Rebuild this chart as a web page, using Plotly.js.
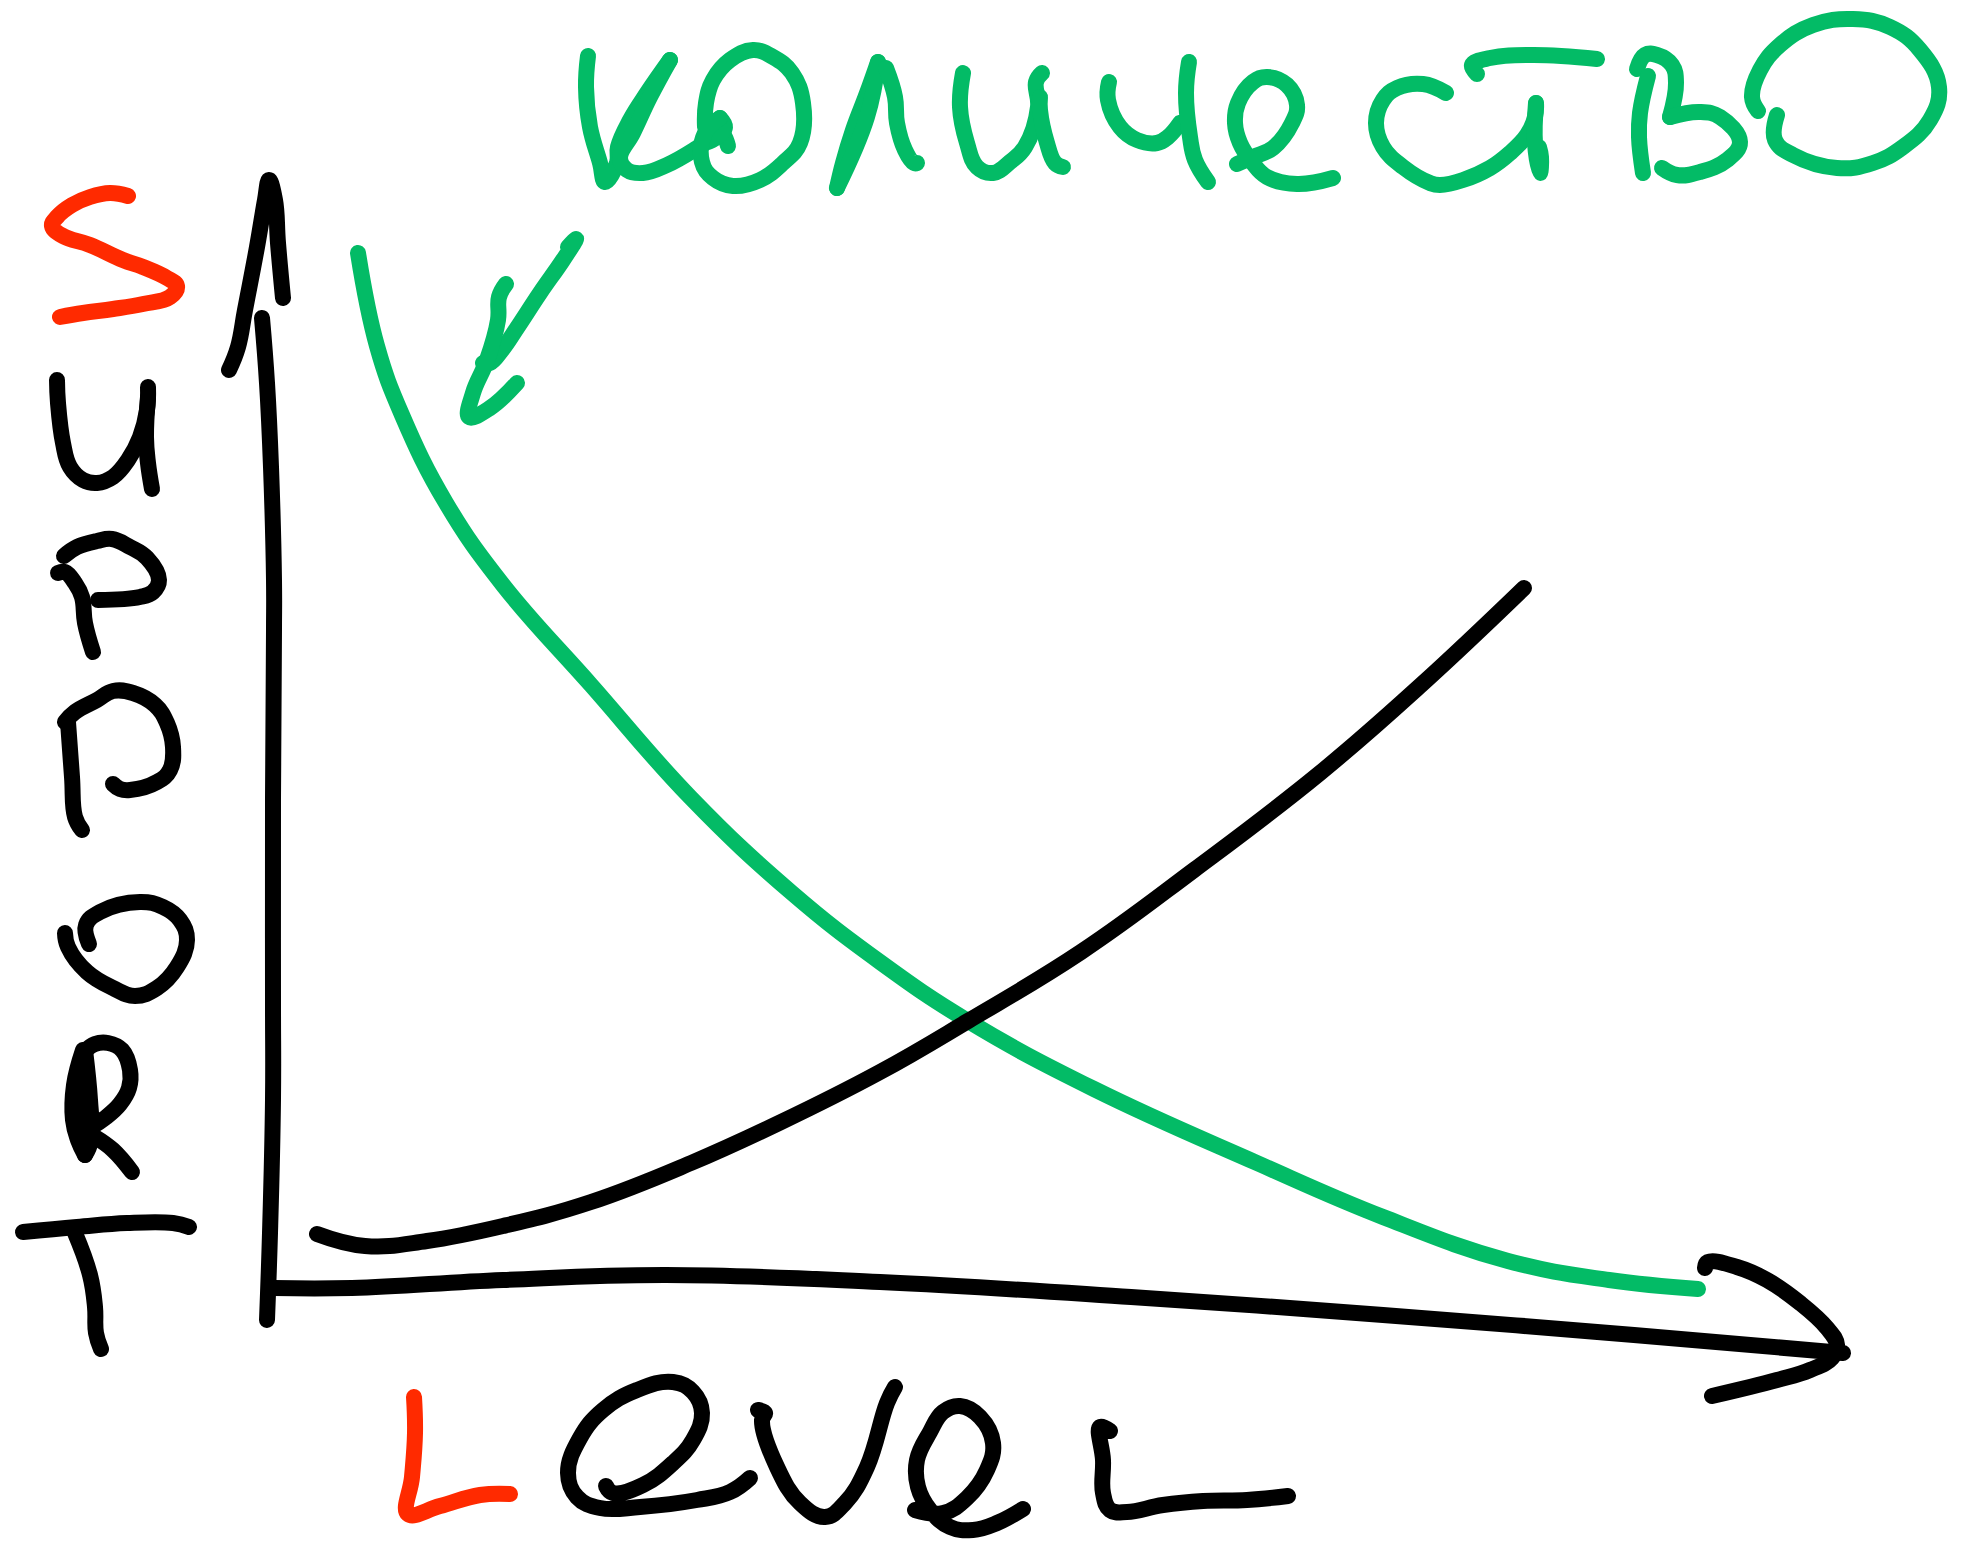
<!DOCTYPE html>
<html lang="en">
<head>
<meta charset="utf-8">
<title>Support Level / количество</title>
<script src="https://cdn.plot.ly/plotly-3.0.1.min.js"></script>
<style>
html,body{margin:0;padding:0;background:#fff}
.scatterlayer .js-line{stroke-linecap:round !important;stroke-linejoin:round !important}
</style>
</head>
<body>
<div id="chart" style="width:1971px;height:1543px"></div>
<script>
const BLACK='#000000', GREEN='#03BB66', RED='#FF2A00';
const LINE_WIDTH=16;

// axes and curves
const yAxisLine=[[262,318],[267,383],[271,467],[274,580],[274,630],[273,800],[273,1000],[273,1100],[270,1233],[267,1320]];
const yAxisHead=[[229,370],[238,347],[245,310],[257,247],[265,200],[269,180],[275,200],[278,243],[283,298]];
const xAxisLine=[[274,1288],[352,1288],[503,1280],[666,1275],[880,1282],[1131,1297],[1383,1315],[1634,1335],[1843,1353]];
const xAxisHead=[[1705,1268],[1708,1262],[1737,1267],[1767,1280],[1800,1303],[1827,1328],[1837,1345],[1832,1358],[1810,1370],[1777,1380],[1712,1396]];
const greenCurve=[[358,253],[377,346],[402,415],[446,503],[503,585],[591,685],[691,798],[792,893],[880,962],[968,1021],[1094,1089],[1257,1163],[1383,1217],[1508,1261],[1609,1280],[1698,1289]];
const blackCurve=[[317,1234],[365,1246],[427,1241],[503,1226],[591,1202],[691,1163],[779,1123],[880,1072],[968,1021],[1081,952],[1194,870],[1320,773],[1421,685],[1524,588]];

// handwritten "SUPPORT"
const S=[[128,196],[110,193],[90,197],[72,205],[57,217],[52,226],[63,236],[90,245],[123,260],[143,267],[167,278],[177,286],[170,297],[143,304],[113,309],[83,313],[60,317]];
const U1=[[57,380],[58,403],[63,443],[70,467],[83,480],[97,483],[113,477],[128,460],[140,437],[147,410],[148,387]];
const U2=[[148,397],[146,437],[148,463],[152,489]];
const P1a=[[64,556],[77,547],[97,541],[112,539],[130,547],[147,558],[159,580],[153,592],[140,597],[98,600]];
const P1b=[[58,573],[65,572],[75,583],[82,597],[85,623],[93,652]];
const P2a=[[65,722],[75,712],[97,700],[113,691],[133,693],[155,705],[167,723],[173,747],[170,770],[157,782],[130,790],[120,789],[113,784]];
const P2b=[[68,722],[72,777],[75,817],[82,830]];
const O=[[89,944],[86,925],[100,912],[140,902],[163,907],[180,920],[187,940],[177,967],[157,988],[135,996],[113,988],[87,972],[68,947],[65,933]];
const R1=[[84,1052],[95,1044],[108,1043],[122,1050],[130,1070],[129,1088],[120,1104],[105,1118],[93,1126]];
const R2=[[83,1050],[74,1085],[73,1120],[78,1140],[85,1155]];
const R3=[[85,1050],[90,1100],[91,1140],[85,1155]];
const R4=[[81,1060],[82,1145]];
const R5=[[95,1137],[113,1150],[132,1172]];
const T1=[[23,1232],[77,1227],[127,1223],[173,1223],[189,1227]];
const T2=[[75,1233],[90,1275],[95,1307],[96,1333],[101,1349]];

// handwritten "количество" and its arrow
const arrow1=[[568,247],[576,239],[563,260],[540,293],[517,328],[502,350],[490,363],[483,363]];
const arrow2=[[506,284],[499,297],[498,320],[487,360],[473,393],[469,417],[490,408],[517,383]];
const k1=[[588,56],[586,87],[590,127],[600,163],[605,182],[617,163],[618,147],[630,120],[647,93],[670,60]];
const k2=[[670,60],[650,97],[633,133],[620,158],[627,170],[643,173],[667,165],[697,148],[720,132],[728,146]];
const k3=[[720,118],[725,127],[717,137],[705,143]];
const o1=[[705,127],[706,103],[713,80],[730,60],[753,50],[773,57],[792,73],[803,103],[800,143],[783,163],[760,180],[733,186],[713,178],[702,162],[705,133],[720,118]];
const l1=[[837,188],[843,163],[853,130],[867,93],[878,62]];
const l2=[[878,62],[867,117],[837,188]];
const l3=[[886,68],[895,97],[897,123],[905,150],[914,163],[917,163]];
const i1=[[963,73],[960,107],[967,143],[977,167],[993,173],[1010,162],[1025,147],[1038,107],[1036,82],[1042,73]];
const i2=[[1040,97],[1040,110],[1047,143],[1055,163],[1063,167]];
const ch1=[[1109,82],[1108,100],[1120,127],[1137,140],[1157,143],[1168,137],[1180,123]];
const ch2=[[1189,62],[1186,93],[1190,137],[1195,160],[1208,182]];
const e1=[[1237,164],[1253,157],[1273,148],[1292,123],[1297,105],[1287,85],[1267,77],[1253,82],[1238,103],[1235,123],[1240,143],[1252,162],[1267,177],[1297,184],[1333,178]];
const s1=[[1446,93],[1423,84],[1397,88],[1383,100],[1376,123],[1383,147],[1403,167],[1430,183],[1440,185],[1463,180],[1490,168],[1510,153],[1527,135],[1535,117],[1536,103]];
const t1=[[1477,74],[1472,65],[1490,58],[1533,55],[1597,59]];
const t2=[[1536,103],[1535,143],[1540,173],[1541,157],[1539,147]];
const v1=[[1637,69],[1645,55],[1657,55],[1672,65],[1676,83],[1670,117]];
const v2=[[1670,117],[1700,112],[1720,117],[1740,142],[1727,160],[1700,172],[1677,175],[1662,168]];
const v3=[[1648,76],[1640,113],[1639,137],[1643,173]];
const o2=[[1758,111],[1752,97],[1760,70],[1780,45],[1813,25],[1853,19],[1890,27],[1920,50],[1939,87],[1930,120],[1903,147],[1873,163],[1837,168],[1793,155],[1775,140],[1777,115]];

// handwritten "Level"
const L1=[[414,1397],[415,1433],[412,1477],[408,1514],[440,1506],[480,1495],[510,1494]];
const e2=[[606,1486],[613,1493],[643,1485],[673,1463],[693,1440],[702,1413],[693,1392],[673,1382],[637,1390],[603,1410],[580,1438],[568,1473],[577,1497],[600,1508],[640,1507],[697,1500],[730,1492],[750,1478]];
const lv=[[758,1410],[765,1413],[762,1420],[777,1467],[800,1503],[825,1517],[845,1503],[867,1467],[887,1403],[895,1387]];
const e3=[[1023,1509],[997,1523],[973,1530],[950,1527],[930,1510],[918,1487],[917,1460],[930,1432],[943,1412],[960,1406],[980,1417],[993,1443],[987,1470],[967,1498],[943,1513],[915,1510]];
const L2=[[1110,1431],[1100,1427],[1103,1460],[1103,1493],[1110,1510],[1127,1512],[1163,1505],[1203,1501],[1247,1500],[1288,1496]];

const strokes=[
 ['Y axis',BLACK,yAxisLine],['Y axis',BLACK,yAxisHead],['X axis',BLACK,xAxisLine],['X axis',BLACK,xAxisHead],
 ['количество',GREEN,greenCurve],['Support level curve',BLACK,blackCurve],
 ['S',RED,S],['U',BLACK,U1],['U',BLACK,U2],['P',BLACK,P1a],['P',BLACK,P1b],['P',BLACK,P2a],['P',BLACK,P2b],['O',BLACK,O],
 ['R',BLACK,R1],['R',BLACK,R2],['R',BLACK,R3],['R',BLACK,R4],['R',BLACK,R5],['T',BLACK,T1],['T',BLACK,T2],
 ['arrow',GREEN,arrow1],['arrow',GREEN,arrow2],
 ['к',GREEN,k1],['к',GREEN,k2],['к',GREEN,k3],['о',GREEN,o1],['л',GREEN,l1],['л',GREEN,l2],['л',GREEN,l3],['и',GREEN,i1],['и',GREEN,i2],
 ['ч',GREEN,ch1],['ч',GREEN,ch2],['е',GREEN,e1],['с',GREEN,s1],['т',GREEN,t1],['т',GREEN,t2],['в',GREEN,v1],['в',GREEN,v2],['в',GREEN,v3],['о',GREEN,o2],
 ['L',RED,L1],['e',BLACK,e2],['v',BLACK,lv],['e',BLACK,e3],['L',BLACK,L2]
];

const traces=strokes.map(([name,color,pts])=>({
  type:'scatter',mode:'lines',name,
  x:pts.map(p=>p[0]),y:pts.map(p=>p[1]),
  line:{color,width:LINE_WIDTH,shape:'spline',smoothing:1.2,simplify:false},
  hoverinfo:'name'
}));

const hiddenAxis={visible:false,fixedrange:true};
Plotly.newPlot('chart',traces,{
  width:1971,height:1543,showlegend:false,
  margin:{l:0,r:0,t:0,b:0},
  paper_bgcolor:'#ffffff',plot_bgcolor:'#ffffff',
  xaxis:{...hiddenAxis,range:[0,1971]},
  yaxis:{...hiddenAxis,range:[1543,0]}
},{displayModeBar:false});
</script>
</body>
</html>
